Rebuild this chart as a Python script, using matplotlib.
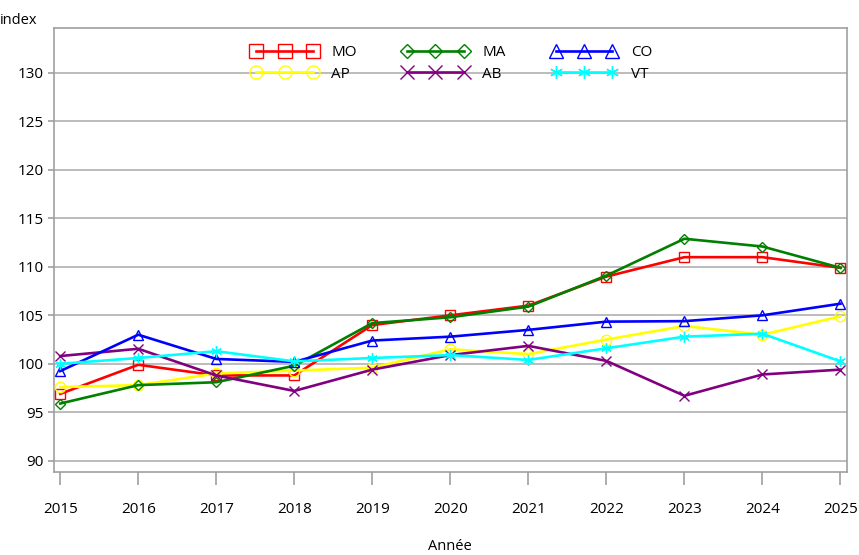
import matplotlib
matplotlib.use("Agg")
import matplotlib.pyplot as plt

years = [2015, 2016, 2017, 2018, 2019, 2020, 2021, 2022, 2023, 2024, 2025]
MO = [96.9, 99.9, 98.8, 98.8, 104.0, 105.0, 106.0, 109.0, 111.0, 111.0, 109.9]
MA = [95.9, 97.8, 98.1, 99.8, 104.2, 104.8, 105.9, 109.1, 112.9, 112.1, 109.9]
CO = [99.25, 103.0, 100.5, 100.2, 102.4, 102.8, 103.5, 104.35, 104.4, 105.0, 106.2]
AP = [97.6, 97.8, 99.0, 99.3, 99.6, 101.5, 101.0, 102.5, 103.9, 103.0, 104.9]
AB = [100.8, 101.55, 98.8, 97.2, 99.4, 100.9, 101.85, 100.3, 96.7, 98.9, 99.4]
VT = [100.0, 100.6, 101.3, 100.25, 100.6, 100.9, 100.4, 101.6, 102.8, 103.1, 100.25]

series = [
    ("MO", MO, "#ff0000", "s"),
    ("AP", AP, "#ffff00", "o"),
    ("MA", MA, "#008000", "D"),
    ("AB", AB, "#800080", "x"),
    ("CO", CO, "#0000ff", "^"),
    ("VT", VT, "#00ffff", (6, 2, 0)),
]

plt.rcParams['font.family'] = ['Open Sans', 'DejaVu Sans']
fig = plt.figure(figsize=(8.59, 5.55), dpi=100)
ax = fig.add_axes([54/859, 1 - 471.7/555, (846.7-54)/859, (471.7-28)/555])

for name, vals, col, mk in series:
    ms = 5.5 if mk == "D" else 7.5
    ax.plot(years, vals, color=col, lw=1.9, marker=mk, ms=ms,
            mfc='none', mec=col, mew=1.0, label=name, zorder=3)

ax.set_xlim(2014.92, 2025.08)
ax.set_ylim(88.87, 134.64)
ax.set_xticks(years)
ax.set_yticks([90, 95, 100, 105, 110, 115, 120, 125, 130])
ax.grid(axis='y', color='#b0b0b0', lw=1.2, zorder=0)
for s in ax.spines.values():
    s.set_color('#a0a0a0')
    s.set_linewidth(1.2)
ax.tick_params(axis='x', length=9.5, color='#a0a0a0', width=1.2, labelsize=11, pad=12)
ax.tick_params(axis='y', length=4.5, color='#a0a0a0', width=1.2, labelsize=11, pad=3)

ax.set_xlabel("Année", fontsize=10.5, labelpad=16)
fig.text(0.0, 1 - 20/555, "index", fontsize=10.5, ha='left', va='center')

leg = ax.legend(ncol=3, loc='upper center', bbox_to_anchor=(0.502, 0.993),
                frameon=False, numpoints=3, handlelength=4.3,
                columnspacing=3.0, handletextpad=0.9, labelspacing=0.45,
                markerscale=1.25, fontsize=11)

fig.savefig("out.png", dpi=100)
